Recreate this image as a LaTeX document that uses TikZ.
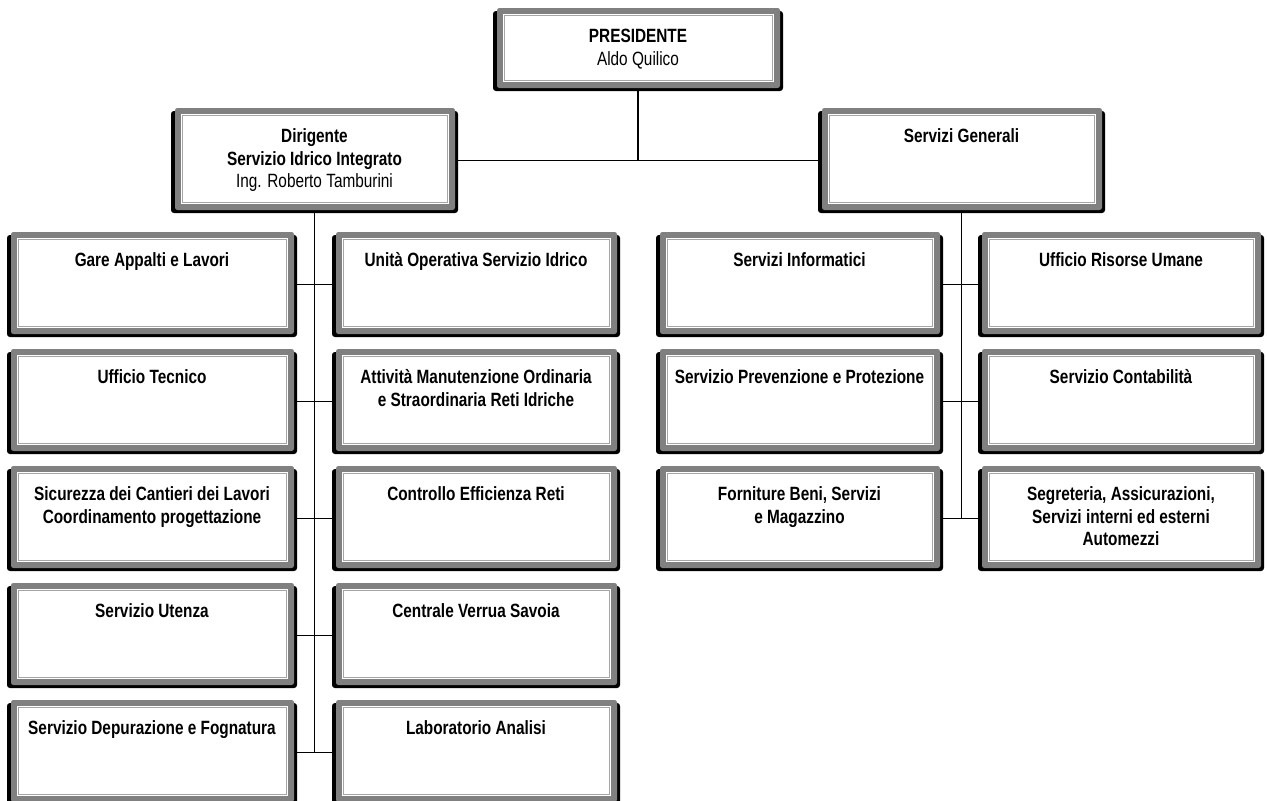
\documentclass[tikz,border=0pt]{standalone}
\usepackage{fontspec}
\setmainfont{Liberation Sans}[FakeStretch=0.8]
\usetikzlibrary{fit,calc}
\definecolor{boxgray}{RGB}{128,128,128}
\definecolor{linegray}{RGB}{165,165,165}
\tikzset{
  lbl/.style={inner sep=0pt, font=\bfseries\fontsize{14.4}{16.9}\selectfont, text=black},
  frame/.style={inner sep=0pt, draw=none},
  conn/.style={draw=black, line width=1.35pt}
}
% #1 name, #2 x0, #3 y0, #4 x1, #5 y1, #6 text
\newcommand\orgbox[6]{%
  \fill[black, rounded corners=2.2pt] (#2,#3+3) rectangle (#4,#5);
  \fill[boxgray, rounded corners=1.8pt] (#2+4,#3) rectangle (#4-3,#5-3);
  \fill[white] (#2+10,#3+6) rectangle (#4-9,#5-9);
  \draw[linegray, line width=0.75pt] (#2+11.5,#3+7.5) rectangle (#4-10.5,#5-10.5);
  \node[frame, fit={(#2,#3) (#4,#5)}] (#1) {};
  \node[lbl, anchor=base] (#1t) at ({(#2+#4)/2}, #3+34.5)
     {\begin{tabular}[t]{@{}c@{}}#6\end{tabular}};
}
\begin{document}
\begin{tikzpicture}[x=0.75pt, y=-0.75pt]
\useasboundingbox (0,0) rectangle (1267,800);
\fill[white] (0,0) rectangle (1267,800);
\clip (0,0) rectangle (1267,800);

% top level
\orgbox{pres}{493}{8}{783}{91}{PRESIDENTE\\\mdseries Aldo Quilico}
\orgbox{dir}{171}{108}{458}{213}{Dirigente\\Servizio Idrico Integrato\\\mdseries Ing. Roberto Tamburini}
\orgbox{sg}{818}{108}{1105}{213}{Servizi Generali}

% column A (x 7-297), column B (x 332-620)
\orgbox{a1}{7}{232}{297}{337}{Gare Appalti e Lavori}
\orgbox{b1}{332}{232}{620}{337}{Unità Operativa Servizio Idrico}
\orgbox{a2}{7}{349}{297}{454}{Ufficio Tecnico}
\orgbox{b2}{332}{349}{620}{454}{Attività Manutenzione Ordinaria\\e Straordinaria Reti Idriche}
\orgbox{a3}{7}{466}{297}{571}{Sicurezza dei Cantieri dei Lavori\\Coordinamento progettazione}
\orgbox{b3}{332}{466}{620}{571}{Controllo Efficienza Reti}
\orgbox{a4}{7}{583}{297}{688}{Servizio Utenza}
\orgbox{b4}{332}{583}{620}{688}{Centrale Verrua Savoia}
\orgbox{a5}{7}{700}{297}{805}{Servizio Depurazione e Fognatura}
\orgbox{b5}{332}{700}{620}{805}{Laboratorio Analisi}

% column C (x 656-943), column D (x 978-1264)
\orgbox{c1}{656}{232}{943}{337}{Servizi Informatici}
\orgbox{d1}{978}{232}{1264}{337}{Ufficio Risorse Umane}
\orgbox{c2}{656}{349}{943}{454}{Servizio Prevenzione e Protezione}
\orgbox{d2}{978}{349}{1264}{454}{Servizio Contabilità}
\orgbox{c3}{656}{466}{943}{571}{Forniture Beni, Servizi\\e Magazzino}
\orgbox{d3}{978}{466}{1264}{571}{Segreteria, Assicurazioni,\\Servizi interni ed esterni\\Automezzi}

% connectors
\draw[conn] (pres.south) -- (pres.south |- dir.east);
\draw[conn] (dir.east) -- (sg.west);
\draw[conn] (dir.south) -- (dir.south |- a5.east);
\draw[conn] (sg.south) -- (sg.south |- c3.east);
\foreach \r in {1,...,5}{\draw[conn] (a\r.east) -- (b\r.west);}
\foreach \r in {1,...,3}{\draw[conn] (c\r.east) -- (d\r.west);}
\end{tikzpicture}
\end{document}
